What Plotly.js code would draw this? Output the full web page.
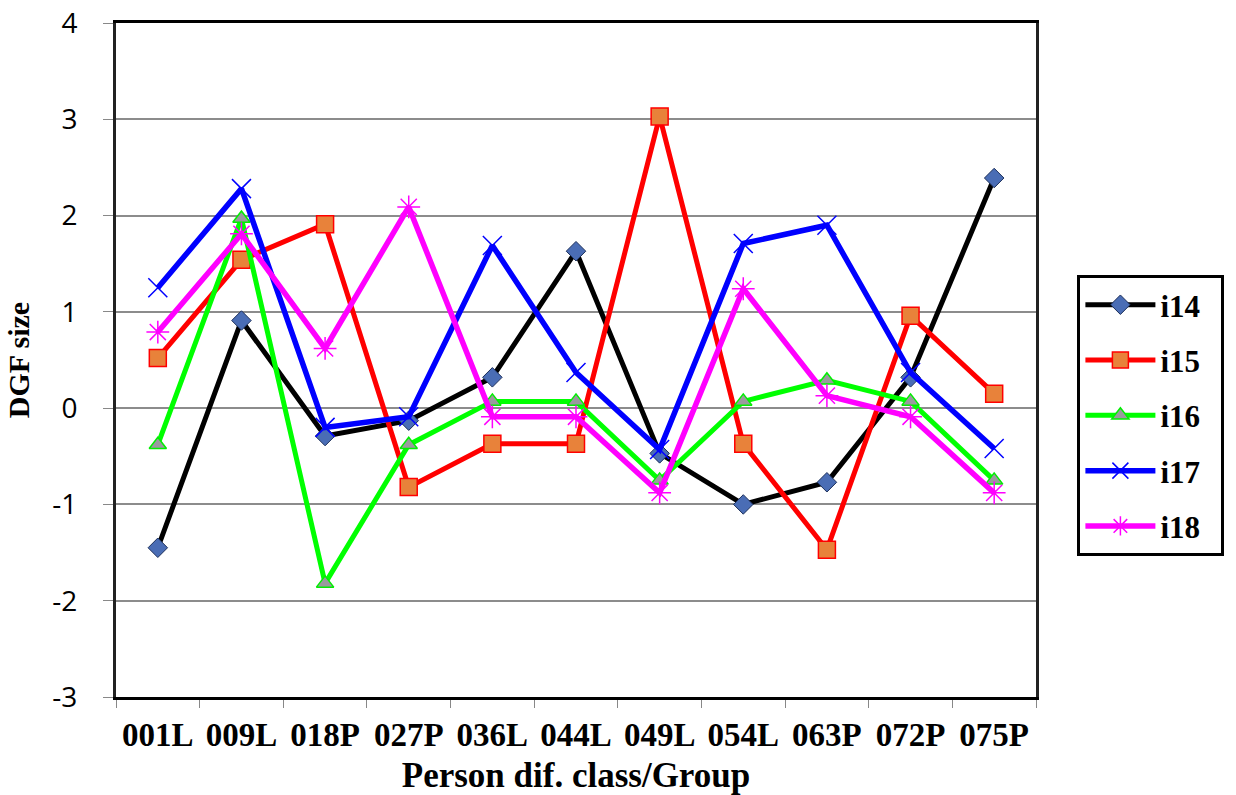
<!DOCTYPE html>
<html>
<head>
<meta charset="utf-8">
<script src="https://cdn.plot.ly/plotly-3.0.1.min.js"></script>
<style>html,body{margin:0;padding:0;background:#fff;}#chart{width:1236px;height:795px;}</style>
</head>
<body>
<div id="chart"></div>
<script>
const categories = ["001L","009L","018P","027P","036L","044L","049L","054L","063P","072P","075P"];
const i14 = [-1.45, 0.91, -0.29, -0.13, 0.32, 1.63, -0.47, -1.00, -0.77, 0.32, 2.39];
const i15 = [0.52, 1.54, 1.91, -0.82, -0.37, -0.37, 3.03, -0.37, -1.47, 0.96, 0.15];
const i16 = [-0.38, 1.97, -1.82, -0.38, 0.07, 0.07, -0.75, 0.07, 0.29, 0.07, -0.75];
const i17 = [1.25, 2.28, -0.20, -0.09, 1.69, 0.37, -0.43, 1.71, 1.90, 0.37, -0.42];
const i18 = [0.79, 1.81, 0.62, 2.09, -0.09, -0.09, -0.88, 1.24, 0.13, -0.09, -0.88];
const seriesNames = ["i14","i15","i16","i17","i18"];
const yTicks = [-3,-2,-1,0,1,2,3,4];
const yTickText = ["-3","-2","-1","0","1","2","3","4"];

const pad = "\u00a0\u00a0";
const serif = "Liberation Serif, Times New Roman, serif";
const traces = [
  {y:i14, line:{color:"#000000", width:5},
   marker:{symbol:"diamond", size:15, color:"#4a6db5", line:{color:"#1c2f5a", width:1}}},
  {y:i15, line:{color:"#ff0000", width:5},
   marker:{symbol:"square", size:17, color:"#e8823a", line:{color:"#ff0000", width:1.5}}},
  {y:i16, line:{color:"#00ff00", width:5},
   marker:{symbol:"triangle-up", size:15, color:"#9a9a9e", line:{color:"#00ee00", width:1.5}}},
  {y:i17, line:{color:"#0000ff", width:5.5},
   marker:{symbol:"x-thin-open", size:19, color:"#0000ff", line:{color:"#2020ff", width:1.5}}},
  {y:i18, line:{color:"#ff00ff", width:5.5},
   marker:{symbol:"asterisk-open", size:19, color:"#ff00ff", line:{color:"#ff00ff", width:1.5}}}
].map((t,k)=>Object.assign({x:categories, type:"scatter", mode:"lines+markers",
  legendgroup:"g"+k, name:seriesNames[k]+pad}, t));

const layout = {
  width:1236, height:795,
  margin:{l:116, r:195, t:23, b:98},
  paper_bgcolor:"#ffffff", plot_bgcolor:"#ffffff",
  showlegend:true,
  legend:{x:1.045, y:0.626, xanchor:"left", yanchor:"top",
    bordercolor:"#000000", borderwidth:3, bgcolor:"#ffffff",
    traceorder:"grouped", tracegroupgap:12, itemwidth:70,
    font:{family:serif, size:31, color:"#000", weight:"bold"}},
  xaxis:{type:"category", range:[-0.5,10.5],
    showline:true, linecolor:"#000", linewidth:3, mirror:true,
    ticks:"outside", tickson:"boundaries", ticklen:8, tickcolor:"#888", tickwidth:1,
    showgrid:false, ticklabelstandoff:6,
    tickfont:{family:serif, size:33, color:"#000", weight:"bold"},
    title:{text:"<b>Person dif. class/Group</b>", standoff:14,
      font:{family:serif, size:35, color:"#000"}}},
  yaxis:{range:[-3,4], tickmode:"array", tickvals:yTicks, ticktext:yTickText, zeroline:false,
    showline:true, linecolor:"#222", linewidth:3, mirror:true,
    ticks:"outside", ticklen:10, tickcolor:"#888", tickwidth:1,
    showgrid:true, gridcolor:"#8c8c8c", gridwidth:1.5,
    ticklabelstandoff:20,
    tickfont:{family:"Open Sans, Noto Sans, sans-serif", size:28, color:"#000"},
    title:{text:"<b>DGF size</b>", standoff:14,
      font:{family:serif, size:30, color:"#000"}}}
};

Plotly.newPlot("chart", traces, layout, {displayModeBar:false, responsive:false});
</script>
</body>
</html>
